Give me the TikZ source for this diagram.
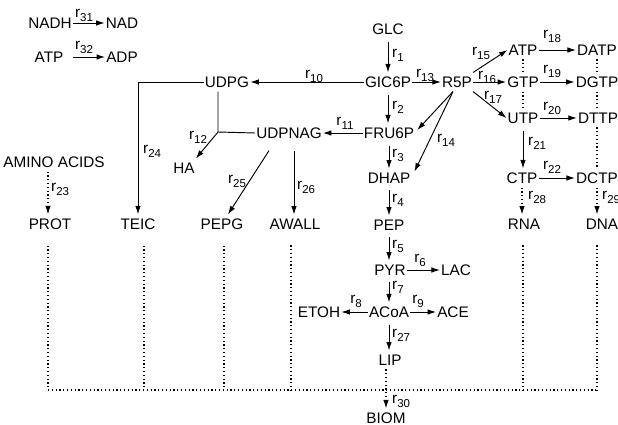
\documentclass[tikz,border=0pt]{standalone}
\usepackage{fontspec}
\setmainfont{Liberation Sans}
\usetikzlibrary{arrows.meta,calc}
\newcommand\rl[1]{r\raisebox{-4pt}{\fontsize{11.5}{11.5}\selectfont #1}}
\begin{document}
\begin{tikzpicture}[x=1pt,y=-1pt,
  met/.style={inner xsep=1pt,inner ysep=4pt,font=\fontsize{15.3}{16}\selectfont},
  lab/.style={inner sep=0pt,font=\fontsize{15.3}{16}\selectfont},
  arr/.style={line width=0.95pt,-{Latex[length=8.5pt,width=5.5pt]}},
  varr/.style={arr,shorten <=3pt},
  ln/.style={line width=0.95pt},
  dot/.style={line width=1.05pt,dash pattern=on 1.1pt off 2.7pt},
  darr/.style={dot,-{Latex[length=8.5pt,width=5.5pt]}}]
\useasboundingbox (0,0) rectangle (618,425);
% cofactor reactions
\node[met] (NADH) at (50,23) {NADH};
\node[met] (NAD) at (122,23) {NAD};
\node[met] (ATPc) at (49,57) {ATP};
\node[met] (ADP) at (122,57) {ADP};
\draw[arr] (NADH) -- (NAD);
\draw[arr,shorten <=8pt] (ATPc) -- (ADP);
\node[lab] at (84,15) {\rl{31}};
\node[lab] at (84,47) {\rl{32}};
% metabolites
\node[met] (GLC) at (388,29) {GLC};
\node[met] (GIC6P) at (388,82) {GIC6P};
\node[met] (UDPG) at (227,82) {UDPG};
\node[met] (R5P) at (457,82) {R5P};
\node[met] (FRU6P) at (389,133) {FRU6P};
\node[met] (UDPNAG) at (289,133) {UDPNAG};
\node[met] (DHAP) at (389,178) {DHAP};
\node[met] (PEP) at (389,225) {PEP};
\node[met] (PYR) at (390,270) {PYR};
\node[met] (LAC) at (456,270) {LAC};
\node[met] (ACoA) at (389,312) {ACoA};
\node[met] (ETOH) at (319,312) {ETOH};
\node[met] (ACE) at (453,312) {ACE};
\node[met] (LIP) at (390,360) {LIP};
\node[met] (BIOM) at (386,418) {BIOM};
\node[met] (ATP) at (523,50) {ATP};
\node[met] (DATP) at (597,50) {DATP};
\node[met] (GTP) at (523,82) {GTP};
\node[met] (DGTP) at (597,82) {DGTP};
\node[met] (UTP) at (523,118) {UTP};
\node[met] (DTTP) at (598,118) {DTTP};
\node[met] (CTP) at (522,178) {CTP};
\node[met] (DCTP) at (597,178) {DCTP};
\node[met] (RNA) at (524,224) {RNA};
\node[met] (DNA) at (602,224) {DNA};
\node[met] (AMINO) at (54,162) {AMINO ACIDS};
\node[met] (PROT) at (50,224) {PROT};
\node[met] (TEIC) at (138,224) {TEIC};
\node[met] (HA) at (184,168) {HA};
\node[met] (PEPG) at (222,224) {PEPG};
\node[met] (AWALL) at (295,224) {AWALL};
% main column
\draw[varr] (GLC.south) -- (GLC.south |- GIC6P.north);
\draw[varr] (GIC6P.south) -- (GIC6P.south |- FRU6P.north);
\draw[varr] (FRU6P.south) -- (FRU6P.south |- DHAP.north);
\draw[varr] (DHAP.south) -- (DHAP.south |- PEP.north);
\draw[varr] (PEP.south) -- (PEP.south |- PYR.north);
\draw[varr] (PEP.south |- PYR.south) -- (PEP.south |- ACoA.north);
\draw[varr] (PEP.south |- ACoA.south) -- (PEP.south |- LIP.north);
\draw[darr] (BIOM.north |- LIP.south) -- (BIOM.north);
\draw[arr] (PYR) -- (LAC);
\draw[arr] (ACoA) -- (ETOH);
\draw[arr] (ACoA) -- (ACE);
% branches
\draw[arr] (GIC6P) -- (UDPG);
\draw[arr] (GIC6P) -- (R5P);
\draw[arr] (FRU6P) -- (UDPNAG);
\coordinate (c12) at (218,132);
\draw[ln] (UDPG.south -| c12) -- (c12) -- (UDPNAG.west);
\draw[arr] (c12) -- (HA.north east);
\draw[arr] (UDPG.west) -| (TEIC.north);
\draw[arr] ($(UDPNAG.south)+(-20,8)$) -- ($(PEPG.north)+(6,0)$);
\draw[arr] ($(UDPNAG.south -| AWALL)+(-1,8)$) -- ($(AWALL.north)+(-1,0)$);
\draw[arr] ($(R5P.south)+(-4,0)$) -- ($(FRU6P.east)+(2,-3)$);
\draw[arr] ($(R5P.south)+(-4,0)$) -- ($(DHAP.north east)+(3,3)$);
\draw[arr] (R5P.north east) -- (ATP.west);
\draw[arr] (R5P) -- (GTP);
\draw[arr] (R5P.south east) -- (UTP.west);
\draw[arr] (ATP) -- (DATP);
\draw[arr] (GTP) -- (DGTP);
\draw[arr] (UTP) -- (DTTP);
\draw[arr] (CTP) -- (DCTP);
\draw[varr] (UTP.south) -- (UTP.south |- CTP.north);
\draw[dot] (ATP.south) -- (GTP.north);
\draw[dot] (GTP.south) -- (UTP.north);
\draw[dot] (DATP.south) -- (DATP.south |- DGTP.north);
\draw[dot] (DATP.south |- DGTP.south) -- (DATP.south |- DTTP.north);
\draw[dot] (DATP.south |- DTTP.south) -- (DATP.south |- DCTP.north);
\draw[darr] (CTP.south) -- (CTP.south |- RNA.north);
\draw[darr] (DCTP.south) -- (DCTP.south |- DNA.north);
\draw[darr] ($(PROT.north |- AMINO.south)+(-2,0)$) -- ($(PROT.north)+(-2,0)$);
% bus to biomass
\coordinate (bus) at (0,390);
\draw[dot] ($(PROT.south)+(-2,12)$) -- ($(PROT.south |- bus)+(-2,0)$);
\draw[dot] ($(TEIC.south)+(6,12)$) -- ($(TEIC.south |- bus)+(6,0)$);
\draw[dot] ($(PEPG.south)+(2,12)$) -- ($(PEPG.south |- bus)+(2,0)$);
\draw[dot] ($(AWALL.south)+(-4,12)$) -- ($(AWALL.south |- bus)+(-4,0)$);
\draw[dot] ($(RNA.south)+(-1,12)$) -- ($(RNA.south |- bus)+(-1,0)$);
\draw[dot] ($(DCTP.south |- DNA.south)+(0,12)$) -- (DCTP.south |- bus);
\draw[dot] ($(PROT.south |- bus)+(-2,0)$) -- (DCTP.south |- bus);
% labels
\node[lab,anchor=west] at (392,55) {\rl{1}};
\node[lab,anchor=west] at (392,107) {\rl{2}};
\node[lab,anchor=west] at (392,155) {\rl{3}};
\node[lab,anchor=west] at (392,200) {\rl{4}};
\node[lab,anchor=west] at (392,246) {\rl{5}};
\node[lab] at (420,260) {\rl{6}};
\node[lab,anchor=west] at (392,287) {\rl{7}};
\node[lab] at (356,301) {\rl{8}};
\node[lab] at (418,301) {\rl{9}};
\node[lab] at (314,76) {\rl{10}};
\node[lab] at (345,123) {\rl{11}};
\node[lab] at (198,137) {\rl{12}};
\node[lab] at (425,75) {\rl{13}};
\node[lab] at (446,140) {\rl{14}};
\node[lab] at (481,53) {\rl{15}};
\node[lab] at (487,77) {\rl{16}};
\node[lab] at (493,97) {\rl{17}};
\node[lab] at (552,36) {\rl{18}};
\node[lab] at (552,71) {\rl{19}};
\node[lab] at (552,108) {\rl{20}};
\node[lab,anchor=west] at (528,143) {\rl{21}};
\node[lab] at (552,167) {\rl{22}};
\node[lab,anchor=west] at (51,189) {\rl{23}};
\node[lab,anchor=west] at (143,151) {\rl{24}};
\node[lab] at (237,181) {\rl{25}};
\node[lab,anchor=west] at (297,187) {\rl{26}};
\node[lab,anchor=west] at (392,335) {\rl{27}};
\node[lab,anchor=west] at (528,197) {\rl{28}};
\node[lab,anchor=west] at (602,197) {\rl{29}};
\node[lab,anchor=west] at (392,401) {\rl{30}};
\end{tikzpicture}
\end{document}
